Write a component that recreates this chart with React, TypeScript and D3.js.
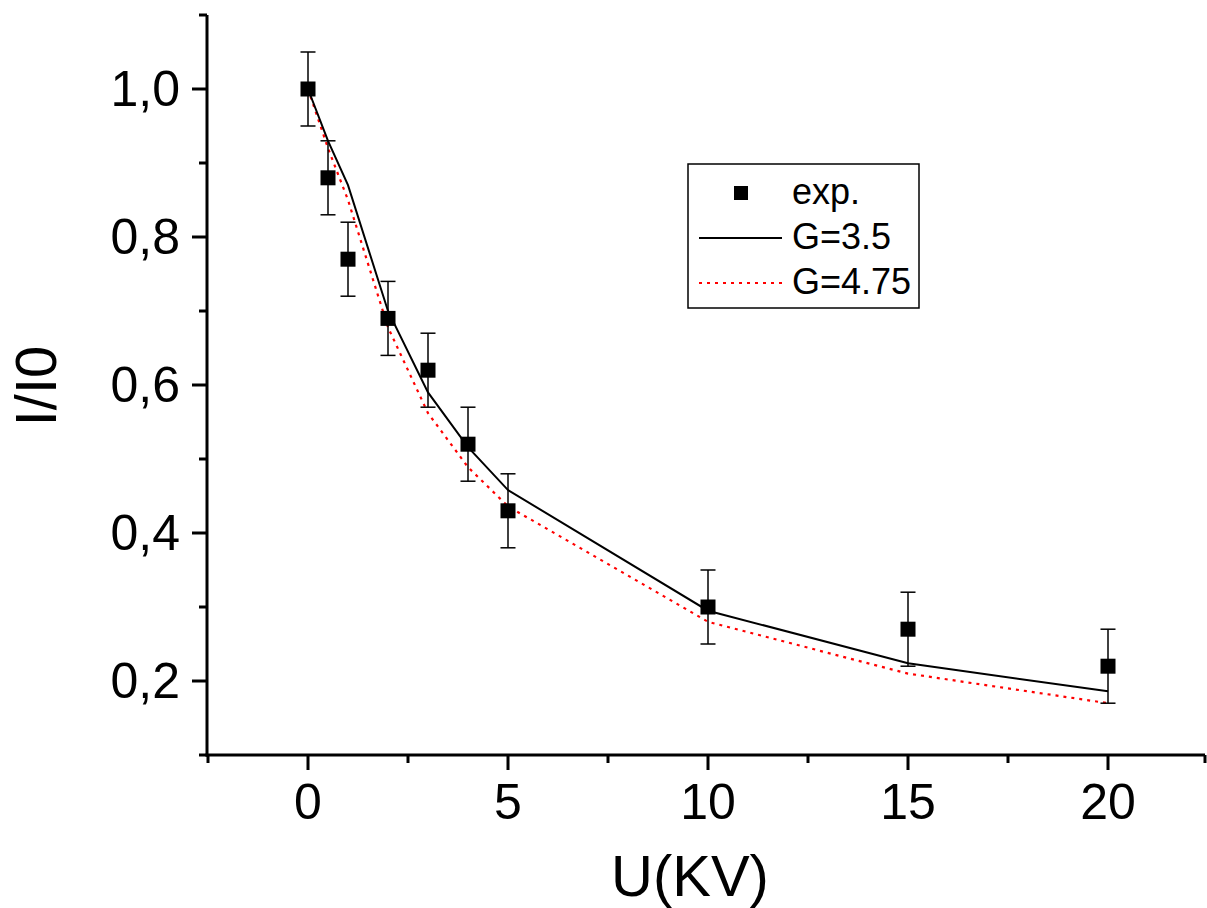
import React from "react";
import * as d3 from "d3";

const expX = [0, 0.5, 1, 2, 3, 4, 5, 10, 15, 20];
const expY = [1.0, 0.88, 0.77, 0.69, 0.62, 0.52, 0.43, 0.3, 0.27, 0.22];
const expErr = [0.05, 0.05, 0.05, 0.05, 0.05, 0.05, 0.05, 0.05, 0.05, 0.05];

const g35X = [0, 0.5, 1, 2, 3, 4, 5, 10, 15, 20];
const g35Y = [1.0, 0.93, 0.87, 0.7, 0.59, 0.516, 0.458, 0.295, 0.224, 0.186];

const g475X = [0, 0.5, 1, 2, 3, 4, 5, 10, 15, 20];
const g475Y = [1.0, 0.92, 0.85, 0.678, 0.562, 0.489, 0.436, 0.28, 0.21, 0.17];

const xMajor = [0, 5, 10, 15, 20];
const xMinor = [-2.5, 2.5, 7.5, 12.5, 17.5, 22.5];
const yMajor = [0.2, 0.4, 0.6, 0.8, 1.0];
const yMinor = [0.1, 0.3, 0.5, 0.7, 0.9, 1.1];
const yLabels = ["0,2", "0,4", "0,6", "0,8", "1,0"];

const legendItems = ["exp.", "G=3.5", "G=4.75"];

const FONT = "Liberation Sans, Arial, sans-serif";

export default function App() {
  const W = 1207, H = 908;
  const x = d3.scaleLinear().domain([-2.5, 22.5]).range([208, 1208]);
  const y = d3.scaleLinear().domain([0.1, 1.1]).range([755, 15]);
  const axX = 207, axY = 755;

  const line = d3
    .line<[number, number]>()
    .x((d) => x(d[0]))
    .y((d) => y(d[1]));
  const g35 = g35X.map((v, i) => [v, g35Y[i]] as [number, number]);
  const g475 = g475X.map((v, i) => [v, g475Y[i]] as [number, number]);

  return (
    <svg width={W} height={H} style={{ display: "block", position: "absolute", left: 0, top: 0 }}>
      <rect width={W} height={H} fill="#fff" />
      {/* axes */}
      <line x1={axX} y1={15} x2={axX} y2={axY + 1.5} stroke="#000" strokeWidth={3} />
      <line x1={axX - 1.5} y1={axY} x2={1205} y2={axY} stroke="#000" strokeWidth={3} />
      {yMajor.map((v, i) => (
        <g key={"ym" + i}>
          <line x1={axX - 15} x2={axX} y1={y(v)} y2={y(v)} stroke="#000" strokeWidth={3} />
          <text x={180} y={y(v)} dy="0.34em" textAnchor="end" fontFamily={FONT} fontSize={50}>
            {yLabels[i]}
          </text>
        </g>
      ))}
      {yMinor.map((v, i) => (
        <line key={"yn" + i} x1={axX - 8} x2={axX} y1={y(v)} y2={y(v)} stroke="#000" strokeWidth={3} />
      ))}
      {xMajor.map((v, i) => (
        <g key={"xm" + i}>
          <line x1={x(v)} x2={x(v)} y1={axY} y2={axY + 15} stroke="#000" strokeWidth={3} />
          <text x={x(v)} y={819} textAnchor="middle" fontFamily={FONT} fontSize={50}>
            {String(v)}
          </text>
        </g>
      ))}
      {xMinor.map((v, i) => (
        <line key={"xn" + i} x1={Math.min(x(v), 1205)} x2={Math.min(x(v), 1205)} y1={axY} y2={axY + 8} stroke="#000" strokeWidth={3} />
      ))}
      {/* axis titles */}
      <text x={690} y={896} textAnchor="middle" fontFamily={FONT} fontSize={58}>
        U(KV)
      </text>
      <text
        transform="translate(56,386) rotate(-90)"
        textAnchor="middle"
        fontFamily={FONT}
        fontSize={58}
      >
        I/I0
      </text>
      {/* curves */}
      <path d={line(g475) || ""} fill="none" stroke="#ff0000" strokeWidth={2.2} strokeDasharray="3,5" />
      <path d={line(g35) || ""} fill="none" stroke="#000" strokeWidth={2} />
      {/* error bars and markers */}
      {expX.map((v, i) => {
        const cx = x(v);
        const top = y(expY[i] + expErr[i]);
        const bot = y(expY[i] - expErr[i]);
        return (
          <g key={"e" + i}>
            <line x1={cx} x2={cx} y1={top} y2={bot} stroke="#000" strokeWidth={1.5} />
            <line x1={cx - 7.5} x2={cx + 7.5} y1={top} y2={top} stroke="#000" strokeWidth={1.5} />
            <line x1={cx - 7.5} x2={cx + 7.5} y1={bot} y2={bot} stroke="#000" strokeWidth={1.5} />
            <rect x={cx - 7.5} y={y(expY[i]) - 7.5} width={15} height={15} fill="#000" />
          </g>
        );
      })}
      {/* legend */}
      <rect x={688} y={164} width={231} height={144} fill="#fff" stroke="#000" strokeWidth={1.5} />
      <rect x={741 - 7} y={193 - 7} width={14} height={14} fill="#000" />
      <line x1={699} x2={782} y1={238} y2={238} stroke="#000" strokeWidth={2} />
      <line x1={699} x2={782} y1={283} y2={283} stroke="#ff0000" strokeWidth={2.2} strokeDasharray="3,5" />
      {legendItems.map((t, i) => (
        <text key={"l" + i} x={792} y={193 + i * 45} dy="0.3em" fontFamily={FONT} fontSize={36}>
          {t}
        </text>
      ))}
    </svg>
  );
}
